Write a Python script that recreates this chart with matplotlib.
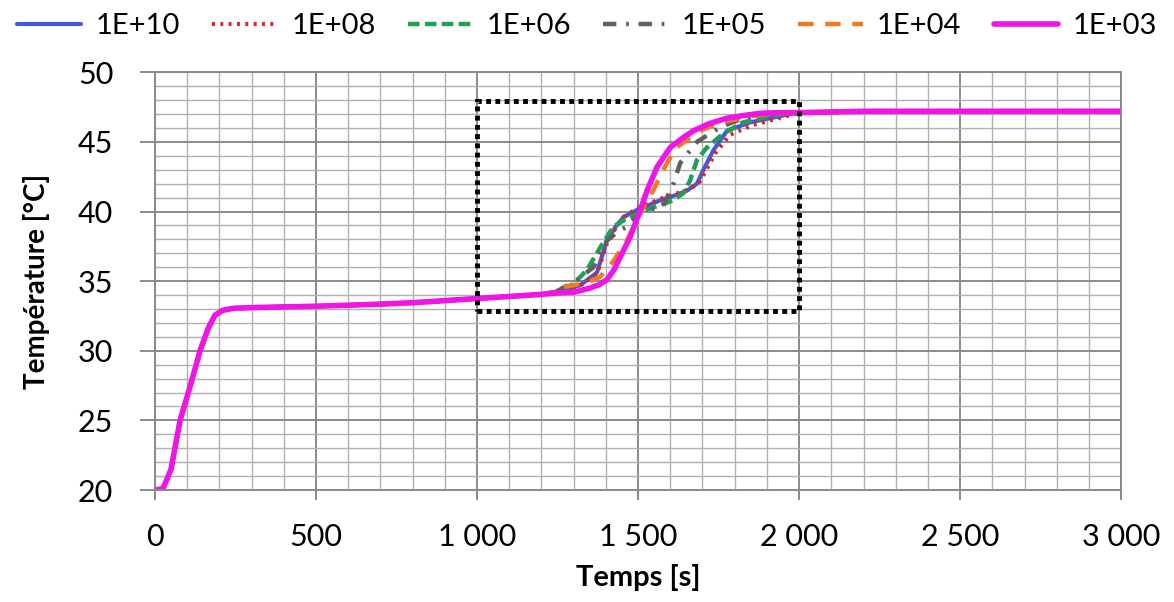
import matplotlib.pyplot as plt
from matplotlib.ticker import MultipleLocator, FuncFormatter
from matplotlib.patches import Rectangle

plt.rcParams['font.family'] = ['Lato', 'DejaVu Sans']

# partie commune (chauffe + palier)
t_base = [0, 25, 50, 78, 110, 140, 165, 186, 210, 243, 300, 400, 500, 600,
          700, 800, 900, 1000, 1100, 1200]
T_base = [20.0, 20.1, 21.5, 25.0, 27.5, 30.0, 31.6, 32.55, 32.9, 33.05,
          33.1, 33.15, 33.2, 33.27, 33.35, 33.45, 33.6, 33.75, 33.9, 34.05]

# palier final
t_end = [2000, 2100, 2200, 2500, 3000]
T_end = [47.1, 47.15, 47.2, 47.2, 47.2]

# transition, une serie par valeur
t_e10 = [1250, 1320, 1372, 1403, 1430, 1455, 1496, 1568, 1620, 1652, 1683,
         1703, 1734, 1776, 1848, 1931, 1980]
T_e10 = [34.2, 34.7, 35.6, 37.9, 38.9, 39.6, 40.1, 40.8, 41.2, 41.5, 42.0,
         43.0, 44.4, 45.8, 46.4, 46.8, 47.05]

t_e08 = [1250, 1320, 1372, 1403, 1430, 1455, 1496, 1568, 1620, 1660, 1690,
         1712, 1740, 1785, 1855, 1935, 1985]
T_e08 = [34.2, 34.7, 35.5, 37.7, 38.8, 39.6, 40.2, 40.9, 41.3, 41.6, 42.1,
         43.0, 44.2, 45.5, 46.2, 46.7, 47.0]

t_e06 = [1250, 1300, 1341, 1382, 1423, 1465, 1537, 1609, 1640, 1661, 1683,
         1714, 1765, 1826, 1900, 1960]
T_e06 = [34.25, 34.8, 35.8, 37.4, 38.9, 39.5, 40.2, 40.8, 41.3, 42.2, 43.7,
         44.6, 45.6, 46.4, 46.8, 47.05]

t_e05 = [1250, 1310, 1361, 1403, 1440, 1465, 1507, 1578, 1610, 1631, 1683,
         1755, 1826, 1900]
T_e05 = [34.3, 35.07, 36.0, 37.9, 38.6, 38.9, 39.9, 40.4, 42.0, 43.5, 45.0,
         46.05, 46.7, 47.0]

t_e04 = [1230, 1258, 1300, 1340, 1382, 1422, 1465, 1507, 1547, 1590, 1620,
         1692, 1760, 1850, 1930]
T_e04 = [34.2, 34.57, 34.7, 34.9, 35.3, 36.4, 37.9, 39.9, 41.5, 43.5, 44.6,
         45.8, 46.4, 46.85, 47.05]

t_e03 = [1250, 1300, 1350, 1380, 1403, 1425, 1444, 1475, 1507, 1528, 1559,
         1600, 1640, 1672, 1720, 1776, 1830, 1879, 1940]
T_e03 = [34.15, 34.2, 34.5, 34.75, 35.1, 35.8, 36.7, 38.15, 40.1, 41.5,
         43.2, 44.6, 45.3, 45.8, 46.3, 46.7, 46.9, 47.05, 47.1]

labels = ['1E+10', '1E+08', '1E+06', '1E+05', '1E+04', '1E+03']

fig = plt.figure(figsize=(11.74, 6.02), dpi=100)
ax = fig.add_axes([0.132, 0.186, 0.823, 0.694])

series = [
    (t_e10, T_e10, dict(color='#4657dc', lw=3.0, ls='-')),
    (t_e08, T_e08, dict(color='#e02424', lw=3.0, ls=(0, (0.7, 1.3)))),
    (t_e06, T_e06, dict(color='#1fa055', lw=3.2, ls=(0, (2.6, 1.2)))),
    (t_e05, T_e05, dict(color='#606060', lw=3.2, ls=(0, (3.0, 2.2, 0.6, 2.2)))),
    (t_e04, T_e04, dict(color='#f07a22', lw=3.2, ls=(0, (3.5, 2.6)))),
    (t_e03, T_e03, dict(color='#f014e6', lw=4.0, ls='-')),
]

for (t, T, st), lab in zip(series, labels):
    ax.plot(t_base + t + t_end, T_base + T + T_end, label=lab,
            solid_capstyle='round', dash_capstyle='butt', **st)

# zone agrandie
ax.add_patch(Rectangle((1000, 32.85), 1000, 15.1, fill=False, ec='black',
                       lw=3.5, ls=(0, (1, 0.9)), zorder=5))

ax.set_xlim(0, 3000)
ax.set_ylim(20, 50)
ax.xaxis.set_major_locator(MultipleLocator(500))
ax.xaxis.set_minor_locator(MultipleLocator(100))
ax.yaxis.set_major_locator(MultipleLocator(5))
ax.yaxis.set_minor_locator(MultipleLocator(1))
ax.xaxis.set_major_formatter(FuncFormatter(lambda v, p: f'{int(v):,}'.replace(',', ' ')))
ax.grid(which='major', color='#8a8a8a', lw=1.4)
ax.grid(which='minor', color='#b0b0b0', lw=1.0)
ax.set_axisbelow(True)
for s in ax.spines.values():
    s.set_color('#8a8a8a')
    s.set_linewidth(1.4)
ax.tick_params(which='major', width=1.4, color='#8a8a8a', labelsize=22)
ax.tick_params(axis='x', which='major', length=7, pad=17)
ax.tick_params(axis='y', which='major', length=11, pad=19)
ax.tick_params(which='minor', length=0)

ax.set_xlabel('Temps [s]', fontsize=21, fontweight='bold', labelpad=9)
ax.set_ylabel('Température [°C]', fontsize=20, fontweight='bold', labelpad=20)

fig.legend(loc='center', bbox_to_anchor=(0.5, 0.957), ncol=6, frameon=False,
           fontsize=21, handlelength=2.2, columnspacing=1.1, handletextpad=0.5,
           borderpad=0.1)

fig.savefig('out.png', dpi=100)
